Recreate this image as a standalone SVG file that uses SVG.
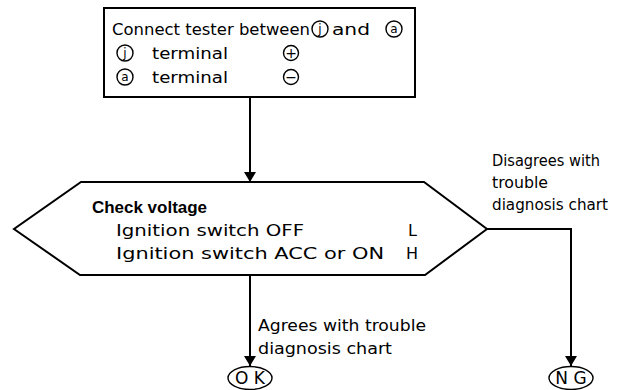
<svg xmlns="http://www.w3.org/2000/svg" width="622" height="390" viewBox="0 0 622 390">
<defs>
<marker id="arr" viewBox="0 0 10 12" refX="10" refY="6" markerWidth="10" markerHeight="12" markerUnits="userSpaceOnUse" orient="auto">
<path d="M0,0 L10,6 L0,12 z" fill="#000"/>
</marker>
<style>
.t{font-family:"DejaVu Sans","Liberation Sans",sans-serif;font-size:16px;fill:#000}
.b{font-family:"Liberation Sans",Arial,sans-serif;font-weight:bold;font-size:17px}
.s{fill:none;stroke:#000;stroke-width:2}
.c{fill:none;stroke:#000;stroke-width:1.4}
.sm{font-family:"DejaVu Sans",sans-serif;font-size:12px;fill:#000;text-anchor:middle}
.pm{font-family:"DejaVu Sans",sans-serif;font-size:14px;fill:#000;text-anchor:middle}
.o{font-family:"DejaVu Sans",sans-serif;font-size:17px;fill:#000;text-anchor:middle}
</style>
</defs>
<rect width="622" height="390" fill="#fff"/>
<g id="connect-tester">
<rect class="s" x="104" y="8" width="311" height="89"/>
<text class="t" x="112" y="35" textLength="198" lengthAdjust="spacingAndGlyphs">Connect tester between</text>
<circle class="c" cx="320" cy="29" r="8"/><text class="sm" x="320" y="33">j</text>
<text class="t" x="332" y="35" textLength="38" lengthAdjust="spacingAndGlyphs">and</text>
<circle class="c" cx="394" cy="29" r="8"/><text class="sm" x="394" y="33">a</text>
<circle class="c" cx="125" cy="53" r="8"/><text class="sm" x="125" y="57">j</text>
<text class="t" x="152" y="59" textLength="76" lengthAdjust="spacingAndGlyphs">terminal</text>
<circle class="c" cx="291" cy="53" r="7.5"/><text class="pm" x="291" y="58">+</text>
<circle class="c" cx="125" cy="77" r="8"/><text class="sm" x="125" y="81">a</text>
<text class="t" x="152" y="83" textLength="76" lengthAdjust="spacingAndGlyphs">terminal</text>
<circle class="c" cx="291" cy="77" r="7.5"/><text class="pm" x="291" y="82">−</text>
</g>
<g id="check-voltage">
<path class="s" d="M81,182 L424,182 L487,229 L425,275 L80,275 L14,229 Z"/>
<text class="b" x="92" y="213" textLength="115" lengthAdjust="spacingAndGlyphs">Check voltage</text>
<text class="t" x="116" y="236" textLength="188" lengthAdjust="spacingAndGlyphs">Ignition switch OFF</text>
<text class="t" x="408" y="236">L</text>
<text class="t" x="116" y="259" textLength="268" lengthAdjust="spacingAndGlyphs">Ignition switch ACC or ON</text>
<text class="t" x="406" y="259">H</text>
</g>
<g id="ok">
<ellipse class="c" cx="250" cy="378" rx="22" ry="11.5"/>
<text class="o" x="250" y="384">O K</text>
</g>
<g id="ng">
<ellipse class="c" cx="571" cy="378" rx="22" ry="11.5"/>
<text class="o" x="571" y="384">N G</text>
</g>
<g id="connectors">
<line class="s" x1="250" y1="97" x2="250" y2="182" marker-end="url(#arr)"/>
<line class="s" x1="250" y1="275" x2="250" y2="366" marker-end="url(#arr)"/>
<polyline class="s" points="487,229 571,229 571,366" marker-end="url(#arr)"/>
<text class="t" x="492" y="166" textLength="108" lengthAdjust="spacingAndGlyphs">Disagrees with</text>
<text class="t" x="492" y="188" textLength="56" lengthAdjust="spacingAndGlyphs">trouble</text>
<text class="t" x="492" y="210" textLength="116" lengthAdjust="spacingAndGlyphs">diagnosis chart</text>
<text class="t" x="258" y="331" textLength="168" lengthAdjust="spacingAndGlyphs">Agrees with trouble</text>
<text class="t" x="258" y="354" textLength="134" lengthAdjust="spacingAndGlyphs">diagnosis chart</text>
</g>
</svg>
